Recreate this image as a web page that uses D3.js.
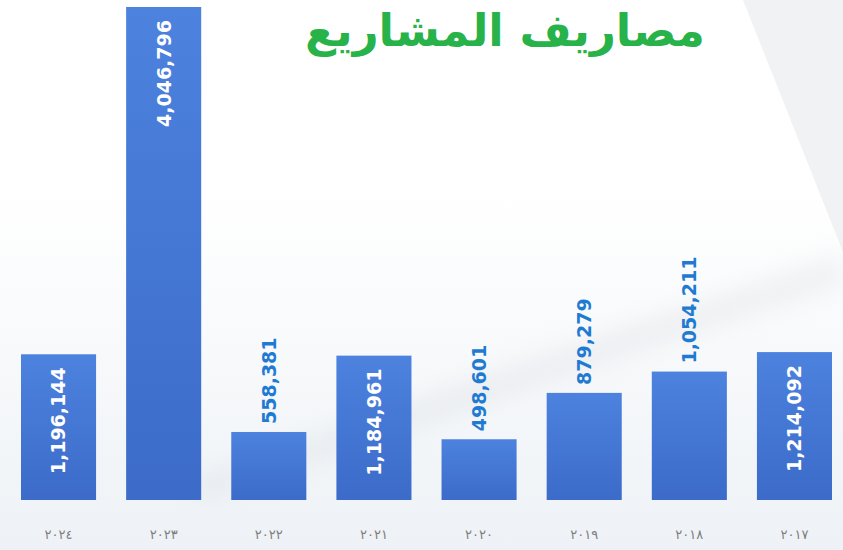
<!DOCTYPE html>
<html>
<head>
<meta charset="utf-8">
<script src="https://cdn.jsdelivr.net/npm/d3@7"></script>
<style>
  html, body { margin: 0; padding: 0; background: #ffffff; }
</style>
</head>
<body>
<div id="chart"></div>
<script>
// data, right to left as in the picture (left = newest)
var years = ["٢٠٢٤", "٢٠٢٣", "٢٠٢٢", "٢٠٢١", "٢٠٢٠", "٢٠١٩", "٢٠١٨", "٢٠١٧"];
var spend = [1196144, 4046796, 558381, 1184961, 498601, 879279, 1054211, 1214092];
var title = "مصاريف المشاريع";

var width = 843, height = 550;

var svg = d3.select("#chart").append("svg")
    .attr("width", width)
    .attr("height", height);

var defs = svg.append("defs");

var bg = defs.append("linearGradient").attr("id", "bgGrad")
    .attr("x1", 0).attr("y1", 0).attr("x2", 0).attr("y2", 1);
bg.append("stop").attr("offset", "0.35").attr("stop-color", "#ffffff");
bg.append("stop").attr("offset", "1").attr("stop-color", "#eef2f6");

var barGrad = defs.append("linearGradient").attr("id", "barGrad")
    .attr("x1", 0).attr("y1", 0).attr("x2", 0).attr("y2", 1);
barGrad.append("stop").attr("offset", "0").attr("stop-color", "#4d82df");
barGrad.append("stop").attr("offset", "1").attr("stop-color", "#3c6bc9");

defs.append("filter").attr("id", "blur")
    .attr("x", "-20%").attr("y", "-50%").attr("width", "140%").attr("height", "200%")
    .append("feGaussianBlur").attr("stdDeviation", 12);

// background
svg.append("rect")
    .attr("width", width).attr("height", height)
    .attr("fill", "url(#bgGrad)");

svg.append("polygon")
    .attr("points", "743,0 843,0 843,252")
    .attr("fill", "#f1f2f4");

// soft diagonal swoosh behind the bars
svg.append("path")
    .attr("d", "M180,485 C400,405 600,335 843,255 L843,285 C600,360 420,430 200,500 Z")
    .attr("fill", "#c9cdd3")
    .attr("opacity", 0.25)
    .attr("filter", "url(#blur)");

// scales
var x = d3.scaleBand()
    .domain(years)
    .range([21, 832])
    .paddingInner(0.286)
    .paddingOuter(0);

var y = d3.scaleLinear()
    .domain([0, d3.max(spend)])
    .range([500, 7]);

var data = years.map(function (d, i) { return { year: d, value: spend[i] }; });
var fmt = d3.format(",");

// bars
svg.append("g").selectAll("rect")
    .data(data)
    .enter()
    .append("rect")
    .attr("x", function (d) { return x(d.year); })
    .attr("y", function (d) { return y(d.value); })
    .attr("width", x.bandwidth())
    .attr("height", function (d) { return y(0) - y(d.value); })
    .attr("fill", "url(#barGrad)");

// value labels: inside (white) for tall bars, above (blue) for short ones
svg.append("g").selectAll("text")
    .data(data)
    .enter()
    .append("text")
    .each(function (d) {
        var cx = x(d.year) + x.bandwidth() / 2;
        var inside = (y(0) - y(d.value)) > 135;
        var ty = inside ? y(d.value) + 13 : y(d.value) - 8;
        d3.select(this)
            .attr("transform", "translate(" + cx + "," + ty + ") rotate(-90)")
            .attr("text-anchor", inside ? "end" : "start")
            .attr("dy", "0.36em")
            .attr("fill", inside ? "#ffffff" : "#1f7bd1")
            .text(fmt(d.value));
    })
    .attr("font-family", "'DejaVu Sans', Verdana, sans-serif")
    .attr("font-weight", "bold")
    .attr("font-size", 19);

// year labels
var xAxis = d3.axisBottom(x).tickSize(0).tickPadding(0);
var axisG = svg.append("g")
    .attr("transform", "translate(0,530)")
    .call(xAxis);
axisG.select(".domain").remove();
axisG.selectAll("text")
    .attr("font-family", "'DejaVu Sans', sans-serif")
    .attr("font-size", 13)
    .attr("fill", "#7d7d7d");

// title
svg.append("text")
    .attr("x", 505)
    .attr("y", 46)
    .attr("text-anchor", "middle")
    .attr("direction", "rtl")
    .attr("font-family", "'DejaVu Sans', sans-serif")
    .attr("font-weight", "bold")
    .attr("font-size", 45)
    .attr("fill", "#27b24a")
    .text(title);
</script>
</body>
</html>
